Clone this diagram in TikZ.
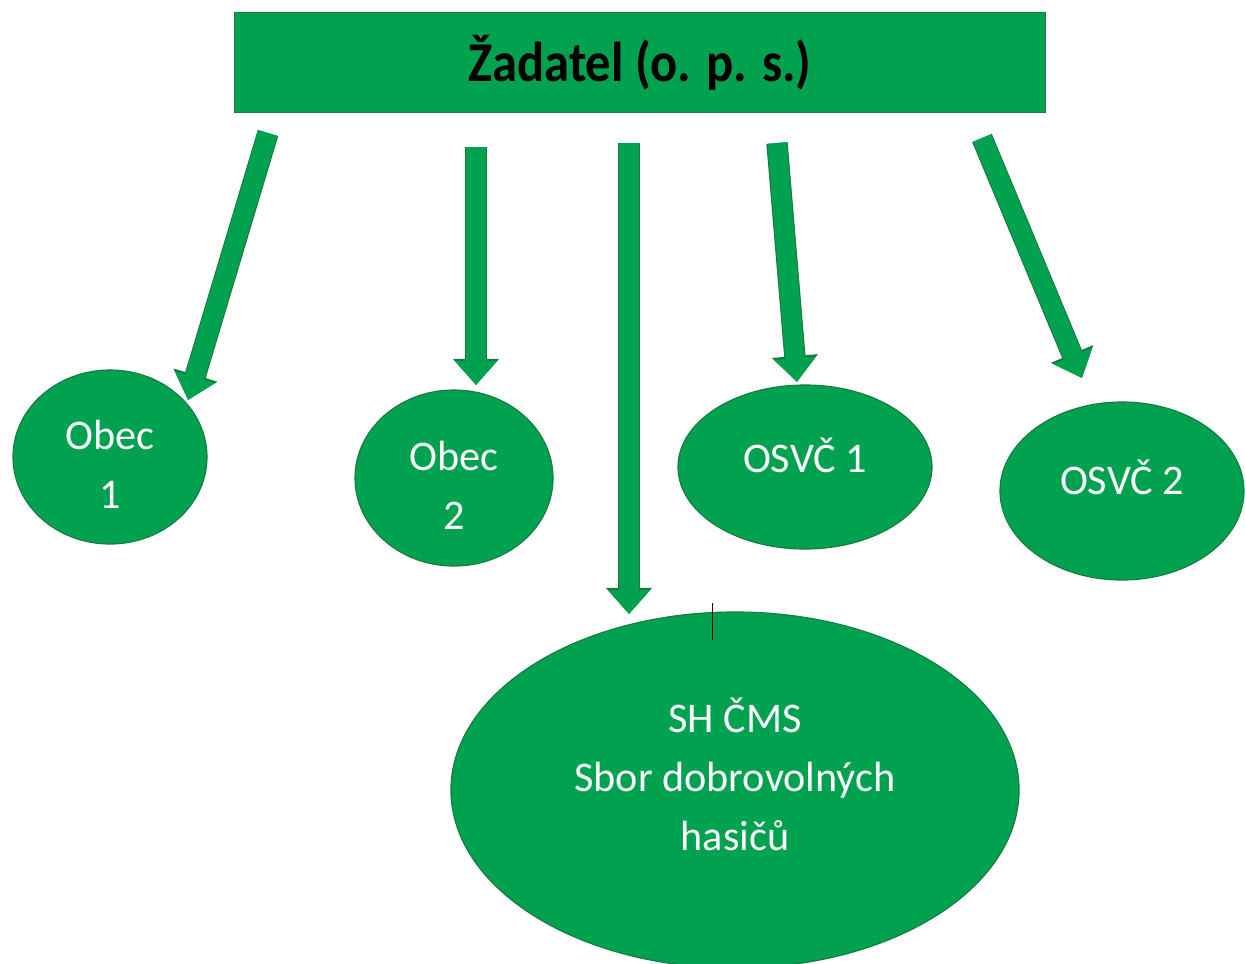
\documentclass[tikz,border=0pt]{standalone}
\usepackage{fontspec}
\usepackage{graphicx}
\setmainfont{Carlito}
\usetikzlibrary{shapes.geometric,arrows.meta}
\definecolor{zelena}{RGB}{0,162,79}
\definecolor{okraj}{RGB}{24,122,62}
\begin{document}
\begin{tikzpicture}[x=0.025cm,y=-0.025cm,
	bublina/.style={ellipse,draw=okraj,fill=zelena,line width=0.8pt,text=white,
		align=center,font=\fontsize{30}{42}\selectfont,inner sep=0pt},
	sipka/.style={draw=zelena,line width=13.6pt,-{Triangle[width=29pt,length=17pt]},
		preaction={draw=okraj,line width=15.2pt,-{Triangle[width=31.5pt,length=18.5pt]}}}]
\useasboundingbox (0,0) rectangle (1245,963);
\node[rectangle,draw=okraj,fill=zelena,line width=0.8pt,minimum width=20.25cm,minimum height=2.5cm,
	font=\fontsize{40}{46}\selectfont\bfseries] (zad) at (640,62.5) {\scalebox{0.9}[1]{Žadatel (o. p. s.)}};
\node[bublina,minimum width=4.85cm,minimum height=4.35cm] (obec1) at (110,457) {\rule{0pt}{31pt}Obec\\1};
\node[bublina,minimum width=4.95cm,minimum height=4.4cm] (obec2) at (454,478) {\rule{0pt}{31pt}Obec\\2};
\node[bublina,minimum width=6.35cm,minimum height=4.1cm] (osvc1) at (805,467) {OSVČ 1\rule[-17pt]{0pt}{17pt}};
\node[bublina,minimum width=6.1cm,minimum height=4.45cm] (osvc2) at (1122,491) {OSVČ 2\rule[-20pt]{0pt}{20pt}};
\node[bublina,minimum width=14.2cm,minimum height=8.9cm] (shcms) at (735,790) {SH ČMS\\Sbor dobrovolných\\hasičů\rule[-23pt]{0pt}{23pt}};
\coordinate (z1) at (268,133); \coordinate (c1) at (188,400);
\coordinate (z2) at (476,147); \coordinate (c2) at (476,385);
\coordinate (z3) at (629,143); \coordinate (c3) at (629,614);
\coordinate (z4) at (777,143); \coordinate (c4) at (797,382);
\coordinate (z5) at (982,138); \coordinate (c5) at (1082,378);
\draw[sipka] (z1) -- (c1);
\draw[sipka] (z2) -- (c2);
\draw[sipka] (z3) -- (c3);
\draw[sipka] (z4) -- (c4);
\draw[sipka] (z5) -- (c5);
\draw[black!70!red,line width=0.6pt] (712,603) -- (712,640);
\end{tikzpicture}
\end{document}
